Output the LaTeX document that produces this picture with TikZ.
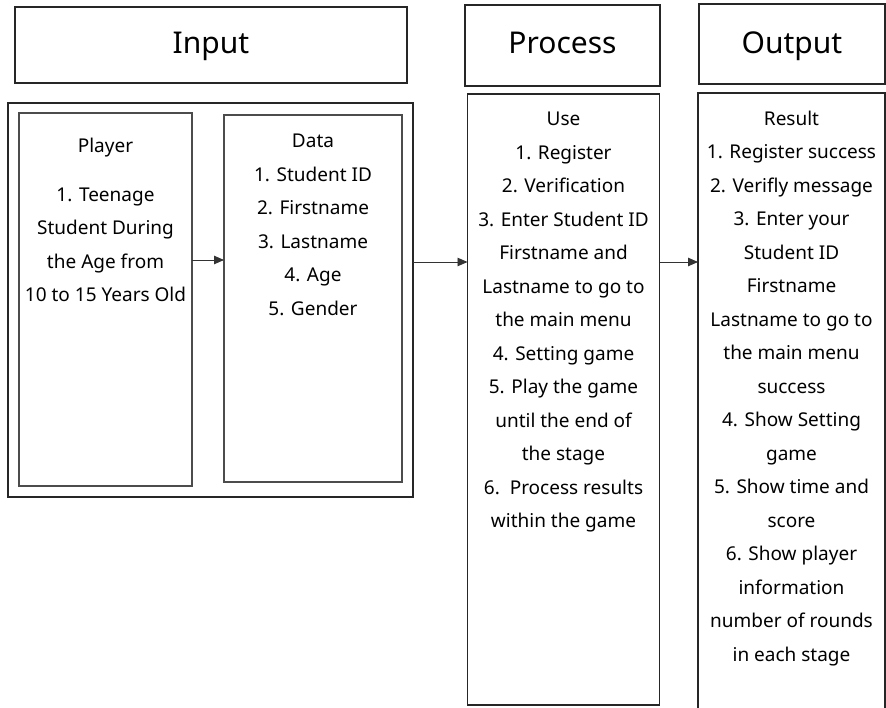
\documentclass[tikz,border=0pt]{standalone}
\usepackage{fontspec}
\setmainfont{Noto Sans}
\usetikzlibrary{arrows.meta}
\tikzset{
  frame/.style={draw=black!85, line width=1.3pt},
  inner/.style={draw=black!70, line width=1.1pt},
  headtext/.style={font=\fontsize{30}{36}\selectfont, inner sep=0pt, anchor=base},
  bodytext/.style={font=\fontsize{19}{33.5}\selectfont, align=center, anchor=north, inner sep=0pt},
  flow/.style={draw=black!80, line width=0.9pt, -{Triangle[length=10pt,width=8.5pt]}}
}
\begin{document}
\begin{tikzpicture}[x=1pt,y=-1pt]
\useasboundingbox (0,0) rectangle (886,708);

% header boxes
\draw[frame] (15,7) rectangle (407,83);
\node[headtext] (inhead) at (211,54) {Input};
\draw[frame] (465,5) rectangle (660,86);
\node[headtext] (prhead) at (562.5,54) {Process};
\draw[frame] (699,4) rectangle (885,84);
\node[headtext] (outhead) at (792,54) {Output};

% input group: outer frame with player and data boxes
\draw[frame] (8,103) rectangle (413,497);
\coordinate (inR) at (413,262);
\draw[inner] (19,113) rectangle (192,486);
\coordinate (plR) at (192,260);
\draw[inner] (224,115) rectangle (402,482);
\coordinate (daL) at (224,260);

\node[bodytext] (pltitle) at (105.5,138) {Player};
\node[bodytext] (pllist) at (105.5,187.5) {1. Teenage\\Student During\\the Age from\\10 to 15 Years Old};
\node[bodytext] (datext) at (313,134) {Data\\1. Student ID\\2. Firstname\\3. Lastname\\4. Age\\5. Gender};

% process box
\draw[frame] (467.5,94) rectangle (659.5,705);
\coordinate (prL) at (467.5,262);
\coordinate (prR) at (659.5,262);
\node[bodytext] (prtext) at (563.5,112) {Use\\1. Register\\2. Verification\\3. Enter Student ID\\Firstname and\\Lastname to go to\\the main menu\\4. Setting game\\5. Play the game\\until the end of\\the stage\\6.\ \ Process results\\within the game};

% output box, open at the bottom edge
\draw[frame] (698,712) -- (698,93) -- (885,93) -- (885,712);
\coordinate (ouL) at (698,262);
\node[bodytext] (outext) at (791.5,110.5) {Result\\1. Register success\\2. Verifly message\\3. Enter your\\Student ID\\Firstname\\Lastname to go to\\the main menu\\success\\4. Show Setting\\game\\5. Show time and\\score\\6. Show player\\information\\number of rounds\\in each stage};

% connectors
\draw[flow] (plR) -- (daL);
\draw[flow] (inR) -- (prL);
\draw[flow] (prR) -- (ouL);
\end{tikzpicture}
\end{document}
